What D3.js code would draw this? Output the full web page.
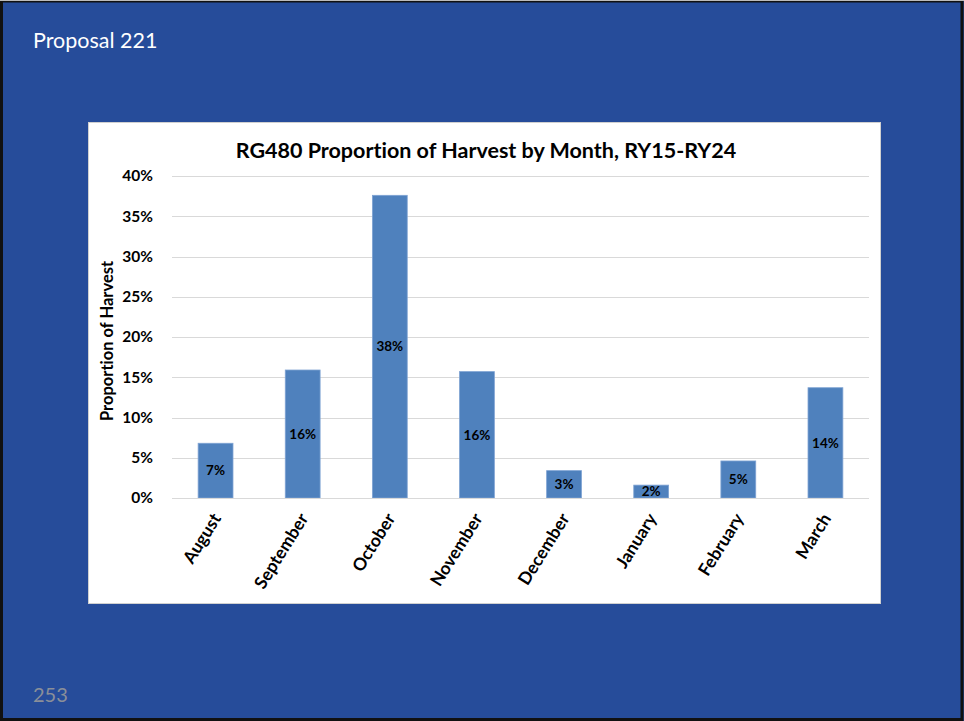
<!DOCTYPE html>
<html>
<head>
<meta charset="utf-8">
<script src="https://cdn.jsdelivr.net/npm/d3@7"></script>
<style>
  html, body { margin: 0; padding: 0; background: #fff; }
  svg { display: block; }
  text { font-variant-ligatures: none; font-feature-settings: "liga" 0; }
</style>
</head>
<body>
<svg id="slide" width="964" height="721"></svg>
<script>
// Harvest share by month (fraction of total harvest)
const months = ["August", "September", "October", "November", "December", "January", "February", "March"];
const shares = [0.068, 0.159, 0.376, 0.157, 0.034, 0.016, 0.046, 0.137];
const valueLabels = ["7%", "16%", "38%", "16%", "3%", "2%", "5%", "14%"];
const yTicks = [0, 0.05, 0.10, 0.15, 0.20, 0.25, 0.30, 0.35, 0.40];

const FONT = "Lato, 'Open Sans', 'Liberation Sans', sans-serif";
const svg = d3.select("#slide");

// Slide background and frame
svg.append("rect").attr("x", 0).attr("y", 0).attr("width", 964).attr("height", 721).attr("fill", "#264C9A");
svg.append("rect").attr("x", 1.5).attr("y", 1).attr("width", 960.5).attr("height", 718.5)
  .attr("fill", "none").attr("stroke", "#111").attr("stroke-width", 3);
svg.append("line").attr("x1", 0).attr("x2", 964).attr("y1", 0.5).attr("y2", 0.5).attr("stroke", "#bbb");

svg.append("text").attr("x", 33).attr("y", 48).attr("fill", "#fff")
  .attr("font-family", FONT).attr("font-size", 21.5).text("Proposal 221");
svg.append("text").attr("x", 33).attr("y", 702).attr("fill", "#8a8f99")
  .attr("font-family", FONT).attr("font-size", 20).text("253");

// Chart panel
svg.append("rect").attr("x", 88.5).attr("y", 122.5).attr("width", 792).attr("height", 481)
  .attr("fill", "#fff").attr("stroke", "#d0d0d0");

const plot = { left: 172, right: 869, top: 176, bottom: 498 };

const x = d3.scaleBand().domain(months).range([plot.left, plot.right]).paddingInner(0.6).paddingOuter(0.3);
const y = d3.scaleLinear().domain([0, 0.40]).range([plot.bottom, plot.top]);

// Gridlines
svg.append("g").selectAll("line").data(yTicks).join("line")
  .attr("x1", plot.left).attr("x2", plot.right)
  .attr("y1", d => Math.round(y(d)) + 0.5).attr("y2", d => Math.round(y(d)) + 0.5)
  .attr("stroke", "#d9d9d9").attr("stroke-width", 1.2);

// Y axis labels
const yAxis = d3.axisLeft(y).tickValues(yTicks).tickFormat(d3.format(".0%")).tickSize(0).tickPadding(0);
const yg = svg.append("g").attr("transform", `translate(153,0)`).call(yAxis);
yg.select(".domain").remove();
yg.selectAll("text").attr("font-family", FONT).attr("font-weight", "bold")
  .attr("font-size", 15.5).attr("fill", "#000");

// Bars
svg.append("g").selectAll("rect").data(shares).join("rect")
  .attr("x", (d, i) => x(months[i]))
  .attr("y", d => y(d))
  .attr("width", x.bandwidth())
  .attr("height", d => y(0) - y(d))
  .attr("fill", "#4F81BD")
  .attr("stroke", "#7fa3d3").attr("stroke-width", 0.8);

// Value labels centered within bars
svg.append("g").selectAll("text").data(shares).join("text")
  .attr("x", (d, i) => x(months[i]) + x.bandwidth() / 2)
  .attr("y", d => (y(d) + y(0)) / 2)
  .attr("dy", "0.35em")
  .attr("text-anchor", "middle")
  .attr("font-family", FONT).attr("font-weight", "bold").attr("font-size", 13.5).attr("fill", "#000")
  .text((d, i) => valueLabels[i]);

// X axis
const xAxis = d3.axisBottom(x).tickSize(0).tickPadding(0);
const xg = svg.append("g").attr("transform", `translate(0,${plot.bottom})`).call(xAxis);
xg.select(".domain").remove();
xg.selectAll("text")
  .attr("font-family", FONT).attr("font-weight", "bold").attr("font-size", 17.5).attr("fill", "#000")
  .attr("text-anchor", "end").attr("dy", "0.35em")
  .attr("transform", "translate(1,17) rotate(-58)");

svg.append("line").attr("x1", plot.left).attr("x2", plot.right)
  .attr("y1", plot.bottom + 0.5).attr("y2", plot.bottom + 0.5).attr("stroke", "#d9d9d9").attr("stroke-width", 1.2);

// Titles
svg.append("text").attr("x", 486).attr("y", 158).attr("text-anchor", "middle")
  .attr("font-family", FONT).attr("font-weight", "bold").attr("font-size", 21.5).attr("fill", "#000")
  .text("RG480 Proportion of Harvest by Month, RY15-RY24");

svg.append("text").attr("transform", `translate(113,341) rotate(-90)`).attr("text-anchor", "middle")
  .attr("font-family", FONT).attr("font-weight", "bold").attr("font-size", 16.5).attr("fill", "#000")
  .text("Proportion of Harvest");
</script>
</body>
</html>
